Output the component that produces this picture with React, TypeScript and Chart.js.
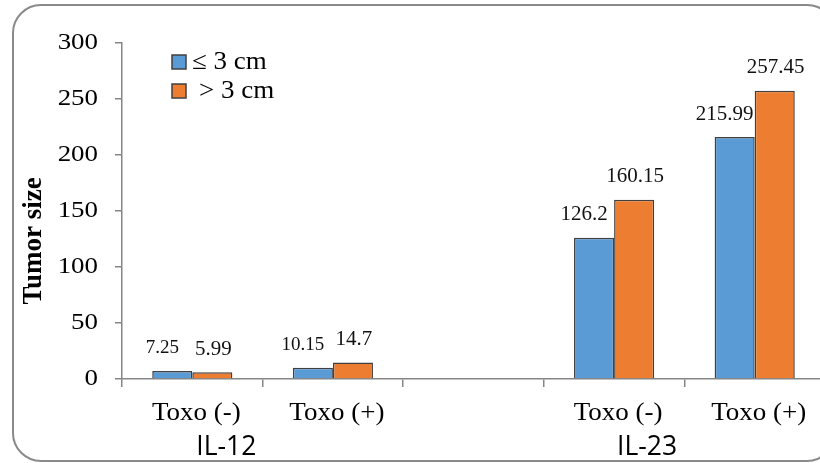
import React, { useEffect, useRef } from "react";
import { Chart, registerables } from "chart.js";

Chart.register(...registerables);

const categories = ["Toxo (-)", "Toxo (+)", "", "Toxo (-)", "Toxo (+)"];
const smallTumor = [7.25, 10.15, null, 126.2, 215.99];
const largeTumor = [5.99, 14.7, null, 160.15, 257.45];
const seriesNames = ["≤ 3 cm", "> 3 cm"];
const groupLabels = ["IL-12", "IL-23"];
const yTitle = "Tumor size";

const SERIF = "'Liberation Serif', 'Times New Roman', serif";
const SANS = "'Open Sans', 'Liberation Sans', sans-serif";
const BLUE = "#5B9BD5";
const ORANGE = "#ED7D31";
const AXIS = "#868686";

function drawText(
  ctx: CanvasRenderingContext2D,
  text: string,
  x: number,
  y: number,
  font: string,
  align: CanvasTextAlign,
  sx = 1,
  color = "#000"
) {
  ctx.save();
  ctx.translate(x, y);
  ctx.scale(sx, 1);
  ctx.font = font;
  ctx.fillStyle = color;
  ctx.textAlign = align;
  ctx.textBaseline = "middle";
  ctx.fillText(text, 0, 0);
  ctx.restore();
}

const decorPlugin = {
  id: "decor",
  beforeDraw(chart: any) {
    const ctx = chart.ctx;
    ctx.save();
    ctx.strokeStyle = "#8a8a8a";
    ctx.lineWidth = 2;
    const x = 13, y = 5, w = 822, h = 456, r = 28;
    ctx.beginPath();
    ctx.moveTo(x + r, y);
    ctx.lineTo(x + w - r, y);
    ctx.arcTo(x + w, y, x + w, y + r, r);
    ctx.lineTo(x + w, y + h - r);
    ctx.arcTo(x + w, y + h, x + w - r, y + h, r);
    ctx.lineTo(x + r, y + h);
    ctx.arcTo(x, y + h, x, y + h - r, r);
    ctx.lineTo(x, y + r);
    ctx.arcTo(x, y, x + r, y, r);
    ctx.closePath();
    ctx.stroke();
    ctx.restore();
  },
  afterDraw(chart: any) {
    const ctx = chart.ctx;
    const xs = chart.scales.x;
    const ys = chart.scales.y;

    // y title
    ctx.save();
    ctx.translate(34, 241);
    ctx.rotate(-Math.PI / 2);
    ctx.font = `bold 27px ${SERIF}`;
    ctx.fillStyle = "#000";
    ctx.textAlign = "center";
    ctx.textBaseline = "middle";
    ctx.fillText(yTitle, 0, 0);
    ctx.restore();

    // y tick labels
    ys.ticks.forEach((t: any) => {
      drawText(ctx, String(t.value), 98, ys.getPixelForValue(t.value), `24px ${SERIF}`, "right", 1.12);
    });

    // x tick labels
    categories.forEach((c, i) => {
      if (!c) return;
      drawText(ctx, c, xs.getPixelForValue(i) + 4, 413, `25px ${SERIF}`, "center", 1.08);
    });

    // data labels
    chart.data.datasets.forEach((ds: any, di: number) => {
      const meta = chart.getDatasetMeta(di);
      meta.data.forEach((bar: any, i: number) => {
        const v = ds.data[i];
        if (v == null) return;
        const size = di === 0 && i < 2 ? 19 : 21;
        const dx = di === 0 ? -10 : 1;
        drawText(ctx, String(v), bar.x + dx, bar.y - 23, `${size}px ${SERIF}`, "center", 1.0, "#111");
      });
    });

    // legend
    const lx = 172;
    const rows = [
      { y: 62, color: BLUE, tx: 192 },
      { y: 91, color: ORANGE, tx: 199 },
    ];
    rows.forEach((row, i) => {
      ctx.save();
      ctx.fillStyle = row.color;
      ctx.strokeStyle = "#404040";
      ctx.lineWidth = 1.5;
      ctx.fillRect(lx, row.y - 7, 14, 14);
      ctx.strokeRect(lx, row.y - 7, 14, 14);
      ctx.restore();
      drawText(ctx, seriesNames[i], row.tx, row.y, `25px ${SERIF}`, "left", 1.08);
    });

    // group labels
    drawText(ctx, groupLabels[0], xs.getPixelForValue(0) + 34, 447, `27px ${SANS}`, "center", 0.98);
    drawText(ctx, groupLabels[1], xs.getPixelForValue(3) + 33, 447, `27px ${SANS}`, "center", 0.98);
  },
};

export default function App() {
  const ref = useRef<HTMLCanvasElement | null>(null);
  useEffect(() => {
    if (!ref.current) return;
    const chart = new Chart(ref.current, {
      type: "bar",
      data: {
        labels: categories,
        datasets: [
          {
            label: seriesNames[0],
            data: smallTumor,
            backgroundColor: BLUE,
            borderColor: "#404040",
            borderWidth: 1.5,
            categoryPercentage: 0.57,
            barPercentage: 1,
          },
          {
            label: seriesNames[1],
            data: largeTumor,
            backgroundColor: ORANGE,
            borderColor: "#404040",
            borderWidth: 1.5,
            categoryPercentage: 0.57,
            barPercentage: 1,
          },
        ],
      },
      options: {
        animation: false,
        responsive: false,
        maintainAspectRatio: false,
        layout: { padding: { top: 43, right: 5, left: 0, bottom: 0 } },
        plugins: { legend: { display: false }, tooltip: { enabled: false } },
        scales: {
          x: {
            afterFit(scale: any) {
              scale.height = 84;
            },
            grid: {
              display: true,
              drawOnChartArea: false,
              drawTicks: true,
              tickLength: 8,
              color: AXIS,
              lineWidth: 1.5,
              offset: true,
            },
            border: { display: true, color: AXIS, width: 1.5 },
            ticks: {
              color: "rgba(0,0,0,0)",
              font: { family: SERIF, size: 21 },
              padding: 12,
              maxRotation: 0,
              autoSkip: false,
            },
          },
          y: {
            min: 0,
            max: 300,
            afterFit(scale: any) {
              scale.width = 122;
            },
            grid: {
              display: true,
              drawOnChartArea: false,
              drawTicks: true,
              tickLength: 7,
              color: AXIS,
              lineWidth: 1.5,
            },
            border: { display: true, color: AXIS, width: 1.5 },
            ticks: {
              stepSize: 50,
              color: "rgba(0,0,0,0)",
              font: { family: SERIF, size: 21 },
              padding: 17,
            },
          },
        },
      },
      plugins: [decorPlugin],
    });
    return () => chart.destroy();
  }, []);
  return (
    <div
      style={{
        position: "absolute",
        left: 0,
        top: 0,
        width: 820,
        height: 463,
        overflow: "hidden",
        background: "#fff",
      }}
    >
      <canvas ref={ref} width={830} height={463} style={{ width: 830, height: 463 }} />
    </div>
  );
}
